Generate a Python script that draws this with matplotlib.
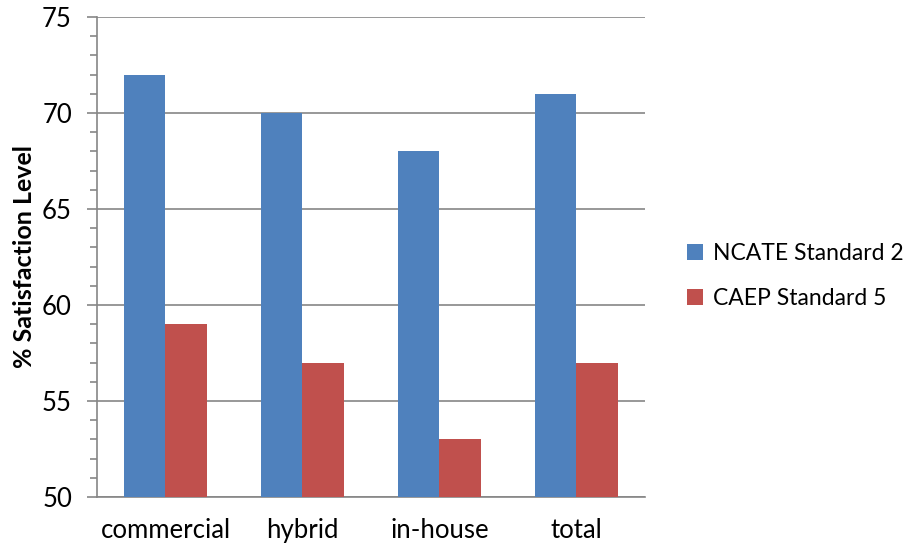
import matplotlib
matplotlib.use("Agg")
import matplotlib.pyplot as plt
import numpy as np
from matplotlib.ticker import MultipleLocator

categories = ["commercial", "hybrid", "in-house", "total"]
ncate_std2 = [72, 70, 68, 71]
caep_std5 = [59, 57, 53, 57]
series_names = ["NCATE Standard 2", "CAEP Standard 5"]

plt.rcParams["font.family"] = ["Lato", "DejaVu Sans"]

fig = plt.figure(figsize=(9.08, 5.46), dpi=100)
ax = fig.add_axes([0.1068, 0.0897, 0.6035, 0.8793])

x = np.arange(len(categories))
w = 0.3
b1 = ax.bar(x - w / 2, np.array(ncate_std2) - 50, w, bottom=50, color="#4F81BD", zorder=3, label=series_names[0])
b2 = ax.bar(x + w / 2, np.array(caep_std5) - 50, w, bottom=50, color="#C0504D", zorder=3, label=series_names[1])

ax.set_xlim(-0.5, len(categories) - 0.5)
ax.set_ylim(50, 75)
ax.yaxis.set_major_locator(MultipleLocator(5))
ax.yaxis.set_minor_locator(MultipleLocator(1))
ax.grid(axis="y", which="major", color="#868686", linewidth=1.2, zorder=0)

gray = "#868686"
for s in ["top", "right"]:
    ax.spines[s].set_visible(False)
for s in ["left", "bottom"]:
    ax.spines[s].set_color(gray)
    ax.spines[s].set_linewidth(1.2)

ax.set_xticks(x)
ax.set_xticklabels(categories)
ax.tick_params(axis="x", length=0, pad=15, labelsize=18.5)
ax.tick_params(axis="y", which="major", length=7, color=gray, width=1.2, labelsize=18.5, pad=11)
ax.tick_params(axis="y", which="minor", length=5, color=gray, width=1.2)

ax.set_ylabel("% Satisfaction Level", fontsize=18, fontweight="bold", labelpad=4)

leg = fig.legend(handles=[b1, b2], loc="center left", bbox_to_anchor=(0.7565, 0.494),
                 frameon=False, fontsize=16.5, handlelength=0.7, handleheight=0.7,
                 handletextpad=0.45, labelspacing=1.05, borderaxespad=0, borderpad=0)

fig.savefig("out.png", dpi=100)
